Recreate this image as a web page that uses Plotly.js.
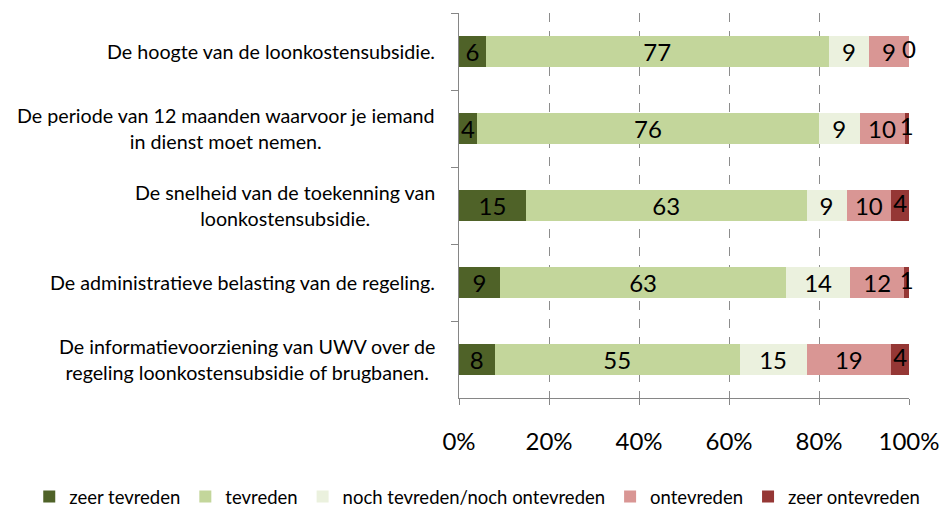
<!DOCTYPE html>
<html>
<head>
<meta charset="utf-8">
<script src="https://cdn.plot.ly/plotly-3.0.1.min.js"></script>
<style>html,body{margin:0;padding:0;background:#fff;}#chart{width:947px;height:512px;}</style>
</head>
<body>
<div id="chart"></div>
<script>
const categories = [
  "De hoogte van de loonkostensubsidie.",
  "De periode van 12 maanden waarvoor je iemand<br>in dienst moet nemen.",
  "De snelheid van de toekenning van<br>loonkostensubsidie.",
  "De administratieve belasting van de regeling.",
  "De informatievoorziening van UWV over de<br>regeling loonkostensubsidie of brugbanen."
];
const seriesNames = ["zeer tevreden", "tevreden", "noch tevreden/noch ontevreden", "ontevreden", "zeer ontevreden"];
const zeerTevreden   = [6, 4, 15, 9, 8];
const tevreden       = [77, 76, 63, 63, 55];
const noch           = [9, 9, 9, 14, 15];
const ontevreden     = [9, 10, 10, 12, 19];
const zeerOntevreden = [0, 1, 4, 1, 4];
const tickVals = [0, 20, 40, 60, 80, 100];
const tickText = ["0%", "20%", "40%", "60%", "80%", "100%"];

const colors = ["#4F6228", "#C3D69B", "#EBF1DE", "#D99694", "#953735"];
const allSeries = [zeerTevreden, tevreden, noch, ontevreden, zeerOntevreden];

const FONT = "Lato, 'Open Sans', sans-serif";
const DATA_FONT = {family: FONT, size: 24, color: "#000"};

const traces = allSeries.map((vals, i) => ({
  type: "bar",
  orientation: "h",
  name: seriesNames[i],
  y: categories,
  x: vals,
  text: vals.map(String),
  textposition: i === allSeries.length - 1 ? "none" : "inside",
  insidetextanchor: "middle",
  textangle: 0,
  constraintext: "none",
  textfont: DATA_FONT,
  marker: {color: colors[i], line: {width: 0}},
  hoverinfo: "x+name"
}));

// labels for the last (thin) series, placed at the centre of its normalised segment
const totals = categories.map((_, r) => allSeries.reduce((s, arr) => s + arr[r], 0));
const lastCenters = categories.map((_, r) =>
  (totals[r] - zeerOntevreden[r] / 2) / totals[r] * 100);
traces.push({
  type: "scatter",
  mode: "text",
  x: lastCenters,
  y: categories,
  text: zeerOntevreden.map(String),
  textposition: "middle center",
  textfont: DATA_FONT,
  showlegend: false,
  hoverinfo: "skip",
  cliponaxis: false
});

const annotations = categories.map(c => ({
  xref: "paper", yref: "y",
  x: -0.049, y: c,
  xanchor: "right", yanchor: "middle",
  text: c, align: "center",
  showarrow: false,
  font: {family: FONT, size: 19.7, color: "#000"}
}));

const layout = {
  width: 947, height: 512,
  margin: {l: 459, r: 38, t: 13, b: 114, autoexpand: false},
  paper_bgcolor: "#fff", plot_bgcolor: "#fff",
  barmode: "stack",
  barnorm: "percent",
  bargap: 0.6,
  font: {family: FONT, color: "#000"},
  showlegend: true,
  legend: {
    orientation: "h",
    x: -0.955, xanchor: "left",
    y: -0.257, yanchor: "middle",
    font: {family: FONT, size: 18.5, color: "#000"},
    traceorder: "normal",
    itemwidth: 30,
    itemclick: false
  },
  xaxis: {
    range: [0, 100],
    tickvals: tickVals,
    ticktext: tickText,
    tickfont: {family: FONT, size: 24, color: "#000"},
    showgrid: true,
    gridcolor: "#8c8c8c",
    griddash: "dash",
    gridwidth: 1,
    zeroline: false,
    showline: true,
    linecolor: "#868686",
    linewidth: 1,
    ticks: "outside",
    ticklen: 6,
    tickcolor: "#868686",
    ticklabelstandoff: 16,
    fixedrange: true
  },
  yaxis: {
    categoryorder: "array",
    categoryarray: categories,
    autorange: "reversed",
    showticklabels: false,
    showline: true,
    linecolor: "#868686",
    linewidth: 1,
    ticks: "outside",
    tickson: "boundaries",
    ticklen: 7,
    tickcolor: "#868686",
    showgrid: false,
    zeroline: false,
    fixedrange: true
  },
  annotations: annotations
};

Plotly.newPlot("chart", traces, layout, {displayModeBar: false, staticPlot: true});
</script>
</body>
</html>
